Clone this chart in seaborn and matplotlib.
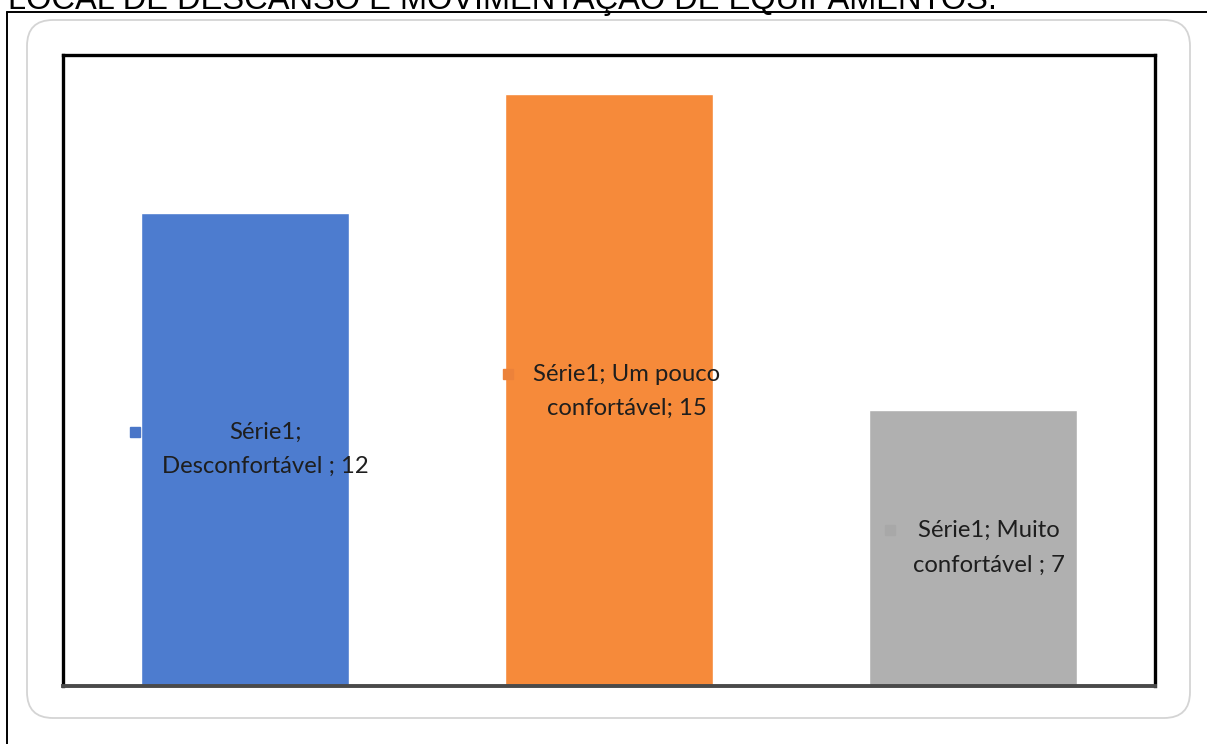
import matplotlib
matplotlib.use("Agg")
import matplotlib.pyplot as plt
from matplotlib.patches import FancyBboxPatch
from matplotlib.lines import Line2D
import seaborn as sns
import pandas as pd

# Survey answers and counts
categories = ["Desconfortável", "Um pouco confortável", "Muito confortável"]
values = [12, 15, 7]
series_name = "Série1"
colors = ["#4D7CCF", "#F68A3A", "#B0B0B0"]
key_colors = ["#4A76C8", "#EC823A", "#A8A8A8"]
data_labels = [
    "Série1;\nDesconfortável ; 12",
    "Série1; Um pouco\nconfortável; 15",
    "Série1; Muito\nconfortável ; 7",
]
title = "LOCAL DE DESCANSO E MOVIMENTAÇÃO DE EQUIPAMENTOS."

sns.set_theme(style="white")
plt.rcParams["font.family"] = ["Lato", "DejaVu Sans"]

W, H = 1207, 744
fig = plt.figure(figsize=(W / 100, H / 100), dpi=100)
fig.patch.set_facecolor("white")

# Page heading (runs off the top edge of the page)
fig.text(8 / W, 1 - 9 / H, title, ha="left", va="baseline",
         fontsize=23.5, color="black", family=["Liberation Sans", "DejaVu Sans"])

# Outer page frame: left and top edges
fig.add_artist(Line2D([6.5 / W, 6.5 / W], [0, 1 - 11.5 / H], transform=fig.transFigure,
                      color="black", lw=1.4))
fig.add_artist(Line2D([6.5 / W, 1], [1 - 11.5 / H, 1 - 11.5 / H], transform=fig.transFigure,
                      color="black", lw=1.4))

# Rounded chart area border
fig.add_artist(FancyBboxPatch((27, H - 718), 1163, 698,
                              boxstyle="round,pad=0,rounding_size=26",
                              transform=None, facecolor="none",
                              edgecolor="#D4D4D4", lw=1.3))

ax = fig.add_axes([63 / W, (H - 686) / H, 1092 / W, 631 / H])
df = pd.DataFrame({"categoria": categories, "valor": values})
sns.barplot(data=df, x="categoria", y="valor", hue="categoria",
            palette=colors, width=0.57, saturation=1, legend=False, ax=ax)

ax.set_xlim(-0.5, 2.5)
ax.set_ylim(0, 16)
ax.set_xticks([])
ax.set_yticks([])
ax.set_xlabel("")
ax.set_ylabel("")

for side in ["top", "left", "right"]:
    ax.spines[side].set_visible(True)
    ax.spines[side].set_color("black")
    ax.spines[side].set_linewidth(2.4)
ax.spines["bottom"].set_visible(True)
ax.spines["bottom"].set_color("#4A4A4A")
ax.spines["bottom"].set_linewidth(2.8)

# Data labels with their legend keys
label_pos = [(0.055, 6.0), (1.049, 7.47), (2.043, 3.5)]
key_pos = [(-0.301, 6.43), (0.7225, 7.90), (1.772, 3.955)]
for i, (lab, (tx, ty), (kx, ky)) in enumerate(zip(data_labels, label_pos, key_pos)):
    ax.text(tx, ty, lab, ha="center", va="center", fontsize=17.2,
            color="#1E1E1E", linespacing=1.78, zorder=5)
    ax.plot([kx], [ky], marker="s", markersize=7.5, color=key_colors[i],
            linestyle="none", zorder=5, clip_on=False)

fig.savefig("out.png", dpi=100)
